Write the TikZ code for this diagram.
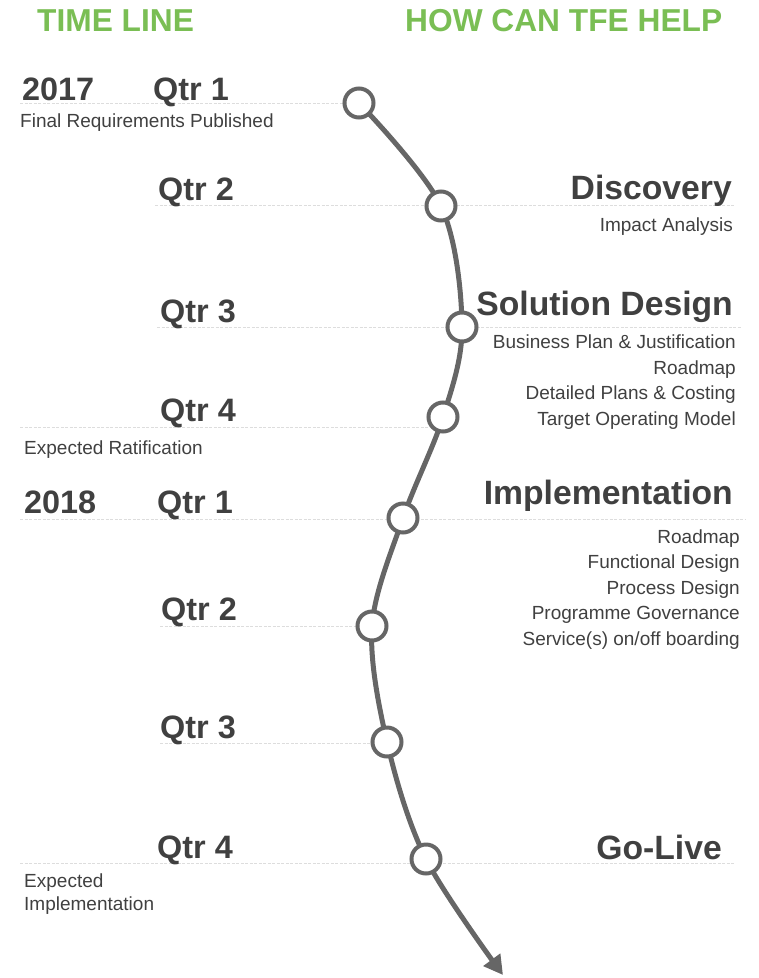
\documentclass[tikz,border=0pt]{standalone}
\usepackage{fontspec}
\setmainfont{Liberation Sans}
\usetikzlibrary{arrows.meta}
\definecolor{tfegreen}{RGB}{122,190,84}
\definecolor{txtgrey}{RGB}{64,64,64}
\definecolor{lineg}{RGB}{102,102,102}
\definecolor{rulegrey}{RGB}{221,221,221}

\begin{document}
\begin{tikzpicture}[x=1pt,y=-1pt]
  \tikzstyle{head}=[text=tfegreen, font=\fontsize{31.7}{31.7}\selectfont\bfseries, anchor=base west, inner sep=0]
  \tikzstyle{qtr}=[text=txtgrey, font=\fontsize{32.4}{32.4}\selectfont\bfseries, anchor=base west, inner sep=0]
  \tikzstyle{phase}=[text=txtgrey, font=\fontsize{33.7}{33.7}\selectfont\bfseries, anchor=base east, inner sep=0]
  \tikzstyle{note}=[text=txtgrey, font=\fontsize{19}{19}\selectfont, anchor=base west, inner sep=0]
  \tikzstyle{task}=[note, anchor=base east]
  \tikzstyle{dot}=[circle, draw=lineg, fill=white, line width=4pt, minimum size=29pt, inner sep=0]
  \tikzstyle{guide}=[rulegrey, line width=1pt, dash pattern=on 3pt off 1.5pt]
  \useasboundingbox (0,0) rectangle (759,978);

  % headers
  \node[head] (tl) at (37,31) {TIME LINE};
  \node[head] (help) at (405,31) {HOW CAN TFE HELP};

  % dashed guides
  \foreach \y/\a/\b in {103/20/355, 205/155/735, 327/157/742, 427/20/440,
                        519/20/745, 626/160/372, 743/160/387, 863/20/735}
    \draw[guide] (\a,\y) -- (\b,\y);

  % left side: quarters
  \node[qtr] (y17) at (22,100) {2017};
  \node[qtr] (q1a) at (153,100) {Qtr 1};
  \node[note] (pub) at (20,127) {Final Requirements Published};
  \node[qtr] (q2a) at (158,200) {Qtr 2};
  \node[qtr] (q3a) at (160,322) {Qtr 3};
  \node[qtr] (q4a) at (160,421) {Qtr 4};
  \node[note] (rat) at (24,454) {Expected Ratification};
  \node[qtr] (y18) at (24,513) {2018};
  \node[qtr] (q1b) at (157,513) {Qtr 1};
  \node[qtr] (q2b) at (161,620) {Qtr 2};
  \node[qtr] (q3b) at (160,738) {Qtr 3};
  \node[qtr] (q4b) at (157,858) {Qtr 4};
  \node[note] (exp) at (24,887) {Expected};
  \node[note] (impl) at (24,910) {Implementation};

  % right side: phases
  \node[phase] (disc) at (732,199) {Discovery};
  \node[task] (ia) at (733,231) {Impact Analysis};
  \node[phase] (sol) at (733,315) {Solution Design};
  \node[task] (bp) at (736,348) {Business Plan \& Justification};
  \node[task] (rm1) at (736,374) {Roadmap};
  \node[task] (dp) at (736,399) {Detailed Plans \& Costing};
  \node[task] (tom) at (736,425) {Target Operating Model};
  \node[phase] (imp) at (733,504) {Implementation};
  \node[task] (rm2) at (740,543) {Roadmap};
  \node[task] (fd) at (740,568) {Functional Design};
  \node[task] (pd) at (740,594) {Process Design};
  \node[task] (pg) at (740,619) {Programme Governance};
  \node[task] (sb) at (740,645) {Service(s) on/off boarding};
  \node[phase] (live) at (722,859) {Go-Live};

  % timeline curve
  \coordinate (p1) at (359,103);
  \coordinate (p2) at (441,206);
  \coordinate (p3) at (462,327);
  \coordinate (p4) at (443,417);
  \coordinate (p5) at (403,518);
  \coordinate (p6) at (372,626);
  \coordinate (p7) at (387,742);
  \coordinate (p8) at (426,859);
  \coordinate (tip) at (503,975);
  \draw[lineg, line width=5pt, -{Triangle[length=19pt,width=20pt]}]
    plot[smooth, tension=0.55] coordinates {(p1) (p2) (p3) (p4) (p5) (p6) (p7) (p8) (tip)};
  \foreach \i in {1,...,8}
    \node[dot] (d\i) at (p\i) {};
\end{tikzpicture}
\end{document}
